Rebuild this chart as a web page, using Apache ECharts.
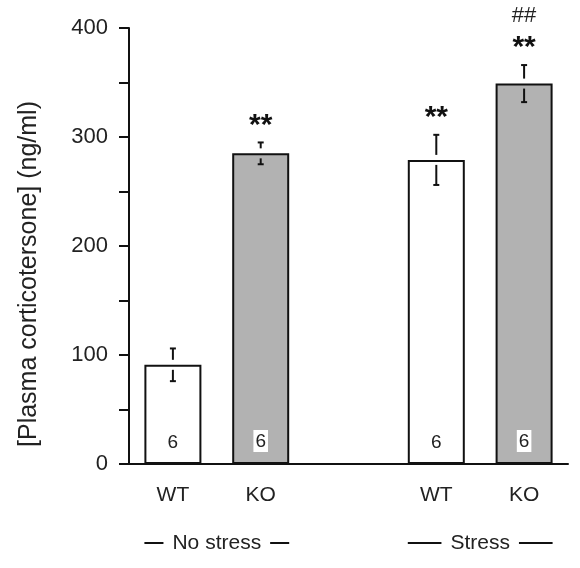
<!DOCTYPE html>
<html>
<head>
<meta charset="utf-8">
<script src="https://cdn.jsdelivr.net/npm/echarts@6/dist/echarts.min.js"></script>
<style>html,body{margin:0;padding:0;background:#fff}#c{width:580px;height:568px}</style>
</head>
<body>
<div id="c"></div>
<script>
// ---- data ----
var categories = ['WT', 'KO', '', 'WT', 'KO'];
var genotypes = ['WT', 'KO', null, 'WT', 'KO'];
var means = [91, 285, null, 279, 349];
var errors = [15, 10, null, 23, 17];
var nLabels = ['6', '6', '', '6', '6'];
var starMarks = ['', '**', '', '**', '**'];
var hashMarks = ['', '', '', '', '##'];
var groupNames = ['No stress', 'Stress'];
var groupFrom = [0, 3];
var groupTo = [1, 4];
var yTicks = [0, 100, 200, 300, 400];

var FONT = '"Liberation Sans", Arial, Helvetica, sans-serif';
var BAR_W = 57;
var colorFor = { WT: '#ffffff', KO: '#b2b2b2' };

var barData = means.map(function (v, i) {
  if (v == null) return null;
  var ko = genotypes[i] === 'KO';
  return {
    value: v,
    itemStyle: { color: colorFor[genotypes[i]], borderColor: '#111', borderWidth: 2 },
    label: {
      show: true,
      position: 'insideBottom',
      distance: 12,
      formatter: nLabels[i],
      fontFamily: FONT,
      fontSize: 19,
      color: '#222',
      backgroundColor: ko ? '#ffffff' : 'transparent',
      padding: ko ? [2, 2, 1, 2] : 0,
      lineHeight: 19
    }
  };
});

var errData = means.map(function (v, i) {
  return v == null ? [i, '-', '-', ''] : [i, v - errors[i], v + errors[i], v];
});

var chart = echarts.init(document.getElementById('c'), null, { renderer: 'canvas' });

chart.setOption({
  animation: false,
  backgroundColor: '#fff',
  grid: { left: 129, right: 12, top: 28, bottom: 104, containLabel: false },
  xAxis: {
    type: 'category',
    data: categories,
    axisLine: { lineStyle: { color: '#111', width: 2 } },
    axisTick: { show: false },
    axisLabel: { margin: 21, fontFamily: FONT, fontSize: 21, color: '#222' }
  },
  yAxis: {
    type: 'value',
    min: 0,
    max: 400,
    interval: 50,
    name: '[Plasma corticotersone] (ng/ml)',
    nameLocation: 'middle',
    nameGap: 87,
    nameTextStyle: { fontFamily: FONT, fontSize: 25, color: '#222', padding: [0, 56, 0, 0] },
    axisLine: { show: true, lineStyle: { color: '#111', width: 2 } },
    axisTick: { show: true, length: 10, lineStyle: { color: '#111', width: 2 } },
    splitLine: { show: false },
    axisLabel: {
      margin: 21,
      fontFamily: FONT,
      fontSize: 22,
      color: '#222',
      formatter: function (v) { return yTicks.indexOf(v) >= 0 ? String(v) : ''; }
    }
  },
  series: [
    {
      type: 'bar',
      data: barData,
      barWidth: BAR_W,
      z: 2
    },
    {
      type: 'custom',
      z: 5,
      data: errData,
      renderItem: function (params, api) {
        var i = api.value(0);
        if (means[i] == null) return null;
        var x = api.coord([i, 0])[0];
        var lo = api.coord([i, api.value(1)])[1];
        var hi = api.coord([i, api.value(2)])[1];
        var top = api.coord([i, api.value(3)])[1];
        var gap = 5, cap = 3;
        var st = { stroke: '#111', lineWidth: 2 };
        var children = [
          { type: 'line', shape: { x1: x, y1: hi, x2: x, y2: top - gap }, style: st },
          { type: 'line', shape: { x1: x - cap, y1: hi, x2: x + cap, y2: hi }, style: st },
          { type: 'line', shape: { x1: x, y1: top + gap, x2: x, y2: lo }, style: st },
          { type: 'line', shape: { x1: x - cap, y1: lo, x2: x + cap, y2: lo }, style: st }
        ];
        if (starMarks[i]) {
          children.push({
            type: 'text',
            style: { x: x, y: hi - 17, text: starMarks[i], align: 'center', verticalAlign: 'middle',
                     font: 'bold 30px ' + FONT, fill: '#111' }
          });
        }
        if (hashMarks[i]) {
          children.push({
            type: 'text',
            style: { x: x, y: hi - 49, text: hashMarks[i], align: 'center', verticalAlign: 'middle',
                     font: '22px ' + FONT, fill: '#222' }
          });
        }
        return { type: 'group', children: children };
      }
    }
  ]
});

// group labels under the axis, positioned from the category scale
var graphics = [];
var yGroup = 543;
groupNames.forEach(function (name, g) {
  var x1 = chart.convertToPixel({ xAxisIndex: 0 }, groupFrom[g]) - BAR_W / 2;
  var x2 = chart.convertToPixel({ xAxisIndex: 0 }, groupTo[g]) + BAR_W / 2;
  graphics.push({
    type: 'line', shape: { x1: x1, y1: yGroup, x2: x2, y2: yGroup },
    style: { stroke: '#111', lineWidth: 2 }
  });
  graphics.push({
    type: 'text', x: (x1 + x2) / 2, y: yGroup,
    style: { text: name, align: 'center', verticalAlign: 'middle', font: '21px ' + FONT,
             fill: '#222', backgroundColor: '#fff', padding: [2, 9, 2, 9] }
  });
});
chart.setOption({ graphic: graphics });
</script>
</body>
</html>
